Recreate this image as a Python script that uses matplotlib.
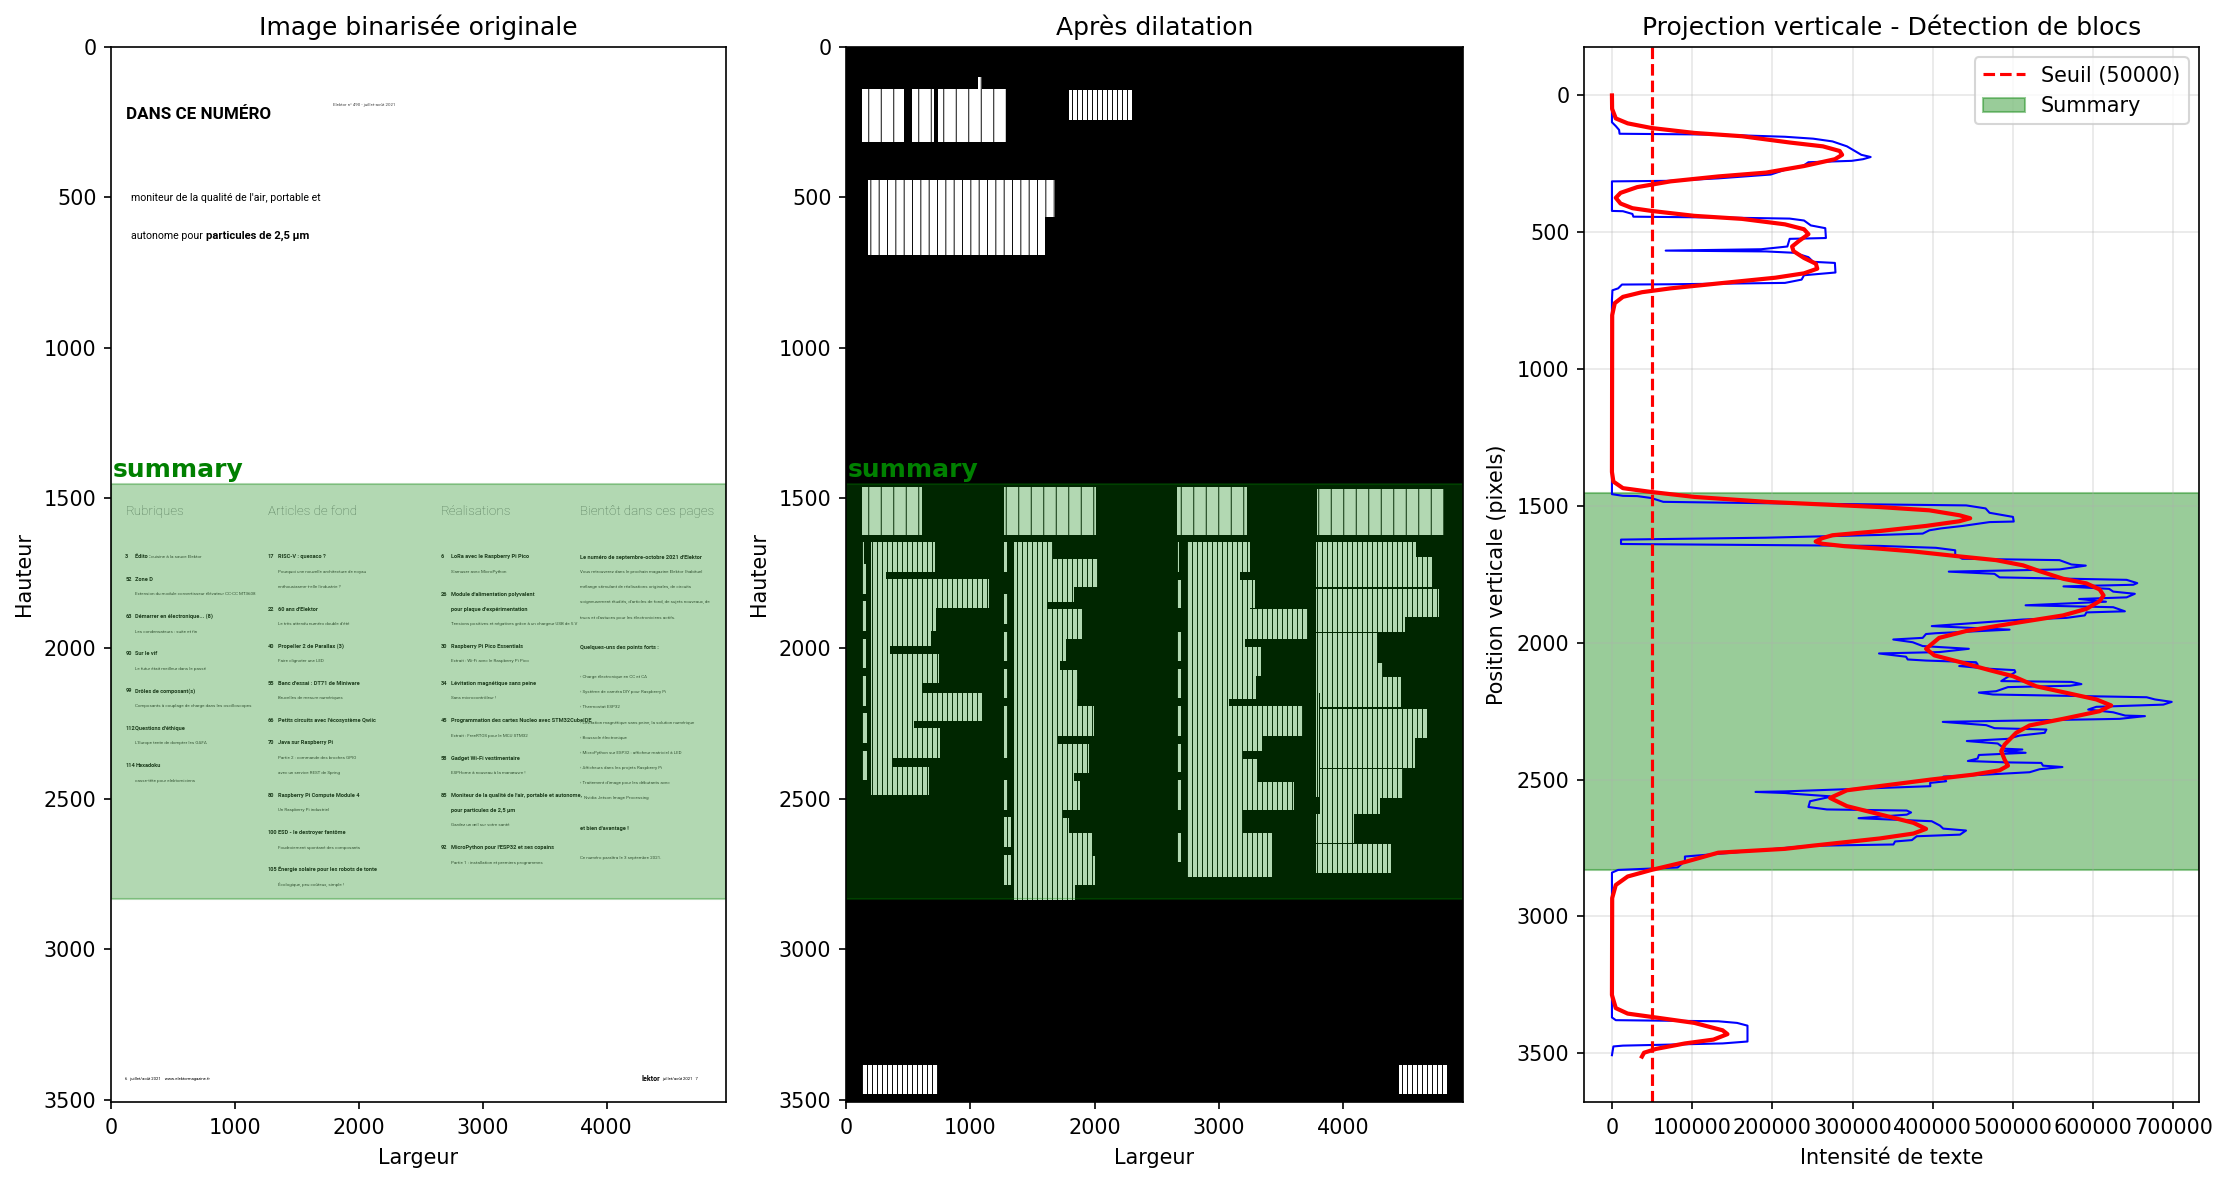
import matplotlib
matplotlib.use("Agg")
import matplotlib.pyplot as plt

plt.rcParams['hatch.linewidth'] = 0.45
plt.rcParams['font.size'] = 9.95
plt.rcParams['xtick.major.pad'] = 4.3
plt.rcParams['axes.labelpad'] = 4.6

NARROW = ['Roboto', 'DejaVu Sans']

# Projection verticale : position (pixels) et intensite
proj_y = [0, 98, 112, 126, 140, 143, 151, 158, 168, 186, 217, 225, 233, 239, 244, 256, 272, 289, 303, 312, 314,
          422, 423, 433, 443, 446, 450, 457, 475, 485, 521, 524, 552, 562, 567, 570, 575, 591, 608, 612, 647,
          657, 673, 685, 690, 691, 705, 712, 747, 1446, 1457, 1463, 1464, 1471, 1485, 1490, 1498, 1509, 1525,
          1540, 1557, 1559, 1573, 1582, 1589, 1601, 1606, 1616, 1623, 1639, 1646, 1653, 1662, 1677, 1693, 1698,
          1714, 1718, 1732, 1740, 1748, 1761, 1770, 1782, 1788, 1794, 1803, 1813, 1821, 1834, 1840, 1850, 1863,
          1870, 1885, 1889, 1900, 1909, 1915, 1939, 1952, 1965, 1968, 1982, 1988, 1998, 2012, 2022, 2034, 2039,
          2051, 2061, 2065, 2071, 2079, 2085, 2095, 2100, 2107, 2140, 2143, 2151, 2157, 2162, 2177, 2182, 2189,
          2199, 2207, 2216, 2226, 2234, 2244, 2254, 2266, 2268, 2278, 2289, 2301, 2312, 2317, 2329, 2339, 2351,
          2359, 2368, 2387, 2390, 2396, 2402, 2410, 2423, 2432, 2437, 2439, 2449, 2454, 2462, 2473, 2483, 2489,
          2506, 2512, 2524, 2543, 2545, 2549, 2552, 2561, 2563, 2579, 2600, 2609, 2613, 2620, 2628, 2641, 2652,
          2668, 2679, 2686, 2701, 2707, 2721, 2726, 2737, 2742, 2767, 2781, 2797, 2821, 2830, 2840, 3369, 3379,
          3383, 3389, 3399, 3457, 3464, 3472, 3475, 3507]
proj_val = [0, 0, 4800, 8900, 9500, 130000, 215700, 251000, 275000, 293000, 311000, 322600, 313000, 299000, 245000,
            239000, 215700, 198000, 132500, 73000, 0,
            0, 13700, 25500, 26700, 132500, 221600, 239500, 248000, 266000, 266800, 221600, 218700, 186000, 67000,
            192000, 227600, 245000, 251000, 278000, 278700,
            239500, 236500, 215700, 73000, 12500, 7700, 600, 0, 0, 0, 13700, 31500, 49000, 64000, 192000, 441700,
            465900, 470800,
            500000, 501000, 470800, 437500, 410400, 395800, 387500, 333000, 192000, 11300, 11300, 333300, 404000,
            428000, 428000, 436700, 558000,
            573000, 590800, 558000, 420000, 477000, 483300, 641700, 655000, 650000, 563000, 620000, 625000, 652000,
            641700, 582500, 616000, 515800,
            625000, 639600, 591700, 589600, 566700, 512500, 398800, 495800, 404000, 391600, 387500, 350800, 375000,
            387500, 445000, 408300, 333000,
            366700, 368800, 391700, 454000, 456000, 433000, 470800, 502000, 503000, 485400, 573000, 585400, 571000,
            493800, 479000, 457500, 475000,
            666700, 677000, 698000, 687500, 604000, 593800, 625000, 640000, 664600, 633000, 412500, 466700, 477000,
            541700, 539600, 508300, 493800,
            442500, 481000, 489600, 511700, 489600, 515800, 457500, 456000, 443800, 491700, 535400, 537500, 561700,
            533300, 520800, 458000, 413300,
            416700, 396700, 397000, 216000, 179000, 216000, 227600, 272000, 272000, 247000, 245000, 268000, 367600,
            373000, 367600, 307500, 398700,
            409000, 413000, 441500, 434000, 380000, 374000, 353000, 351000, 245000, 150000, 91000, 91000, 82000,
            7700, 0, 0, 4800,
            132500, 156000, 169000, 169000, 138000, 13700, 1800, 0]

# Courbe lissee (rouge)
smooth_y = [0, 49, 84, 102, 119, 137, 149, 172, 186, 203, 217, 233, 258, 282, 296, 314, 335, 356, 374, 395, 412,
            422, 440, 451, 471, 489, 507, 531, 552, 569, 594, 615, 633, 650, 666, 687, 705, 719, 736, 759, 803,
            1376, 1411, 1435, 1449, 1467, 1485, 1504, 1516, 1534, 1545, 1556, 1573, 1592, 1607, 1618, 1630, 1638,
            1647, 1656, 1666, 1683, 1698, 1717, 1738, 1766, 1783, 1805, 1827, 1848, 1876, 1900, 1929, 1957, 1982,
            2022, 2046, 2070, 2100, 2122, 2159, 2183, 2207, 2229, 2250, 2278, 2302, 2329, 2372, 2396, 2427, 2449,
            2466, 2482, 2500, 2524, 2539, 2567, 2597, 2624, 2658, 2680, 2697, 2715, 2741, 2753, 2767, 2801, 2830,
            2854, 2885, 2933, 3287, 3335, 3355, 3367, 3389, 3416, 3430, 3450, 3464, 3484, 3498, 3512]
smooth_val = [0, 200, 4800, 19600, 49300, 102800, 162000, 221600, 263000, 284000, 287000, 278000, 239500, 192000,
              132500, 73000, 31500, 10700, 4800, 10700, 25500,
              49300, 102800, 162000, 215700, 239500, 245000, 233500, 224600, 226400, 239500, 254300, 256000, 239500,
              203800, 132500, 73000, 37400, 13700, 3500, 300,
              0, 1800, 13700, 49300, 102800, 192000, 333300, 395800, 433300, 446700, 433000, 391700, 333000, 275000,
              262000, 254000, 262000,
              290000, 333300, 375000, 429000, 479000, 512500, 533000, 562500, 591700, 608000, 613000, 608000, 591700,
              562500, 500000, 441700, 408000,
              391700, 402000, 433300, 470800, 500000, 529000, 566700, 604000, 622500, 608000, 562500, 520800, 504000,
              489600, 485400, 489600, 493800,
              483300, 450000, 397000, 333000, 293000, 272000, 293000, 330000, 376000, 391700, 376000, 334000, 251500,
              215700, 132500, 91000, 49300,
              19600, 4800, 300, 0, 4800, 19600, 49300, 102800, 138000, 144000, 126600, 91000, 55000, 40000, 37400]

seuil = 50000
summary_start = 1452
summary_end = 2832
page_w = 4963
page_h = 3508

# Texte de la page : (x, y, texte)
page_bold = [
    (115, 1695, "3"), (197, 1695, "Édito :"), (115, 1769, "52"), (197, 1769, "Zone D"),
    (115, 1894, "63"), (197, 1894, "Démarrer en électronique... (8)"), (115, 2017, "90"), (197, 2017, "Sur le vif"),
    (115, 2141, "99"), (197, 2141, "Drôles de composant(s)"), (115, 2265, "112"), (197, 2265, "Questions d'éthique"),
    (115, 2389, "114"), (197, 2389, "Hexadoku"),
    (1264, 1695, "17"), (1347, 1695, "RISC-V : quesaco ?"), (1264, 1869, "22"), (1347, 1869, "60 ans d'Elektor"),
    (1264, 1993, "40"), (1347, 1993, "Propeller 2 de Parallax (3)"), (1264, 2116, "55"),
    (1347, 2116, "Banc d'essai : DT71 de Miniware"), (1264, 2241, "66"),
    (1347, 2241, "Petits circuits avec l'écosystème Qwiic"), (1264, 2314, "70"), (1347, 2314, "Java sur Raspberry Pi"),
    (1264, 2488, "80"), (1347, 2488, "Raspberry Pi Compute Module 4"), (1264, 2612, "100"),
    (1347, 2612, "ESD - le destroyer fantôme"), (1264, 2735, "105"), (1347, 2735, "Énergie solaire pour les robots de tonte"),
    (2661, 1695, "6"), (2743, 1695, "LoRa avec le Raspberry Pi Pico"), (2661, 1819, "26"),
    (2743, 1819, "Module d'alimentation polyvalent"), (2743, 1869, "pour plaque d'expérimentation"),
    (2661, 1993, "30"), (2743, 1993, "Raspberry Pi Pico Essentials"), (2661, 2116, "34"),
    (2743, 2116, "Lévitation magnétique sans peine"), (2661, 2241, "45"),
    (2743, 2241, "Programmation des cartes Nucleo avec STM32CubeIDE"), (2661, 2365, "58"),
    (2743, 2365, "Gadget Wi-Fi vestimentaire"), (2661, 2488, "85"),
    (2743, 2488, "Moniteur de la qualité de l'air, portable et autonome,"), (2743, 2538, "pour particules de 2,5 µm"),
    (2661, 2662, "92"), (2743, 2662, "MicroPython pour l'ESP32 et ses copains"),
    (3784, 1697, "Le numéro de septembre-octobre 2021 d'Elektor"), (3784, 1997, "Quelques-uns des points forts :"),
    (3784, 2599, "et bien d'avantage !"),
]
page_light = [
    (323, 1695, "cuisine à la sauce Elektor"), (197, 1819, "Extension du module convertisseur élévateur CC-CC MT3608"),
    (197, 1944, "Les condensateurs : suite et fin"), (197, 2067, "Le futur était meilleur dans le passé"),
    (197, 2191, "Composants à couplage de charge dans les oscilloscopes"),
    (197, 2315, "L'Europe tente de dompter les GAFA"), (197, 2439, "casse-tête pour elektorniciens"),
    (1347, 1745, "Pourquoi une nouvelle architecture de noyau"), (1347, 1795, "enthousiasme-t-elle l'industrie ?"),
    (1347, 1919, "Le très attendu numéro double d'été"), (1347, 2043, "Faire clignoter une LED"),
    (1347, 2166, "Brucelles de mesure numériques"), (1347, 2365, "Partie 2 : commande des broches GPIO"),
    (1347, 2415, "avec un service REST de Spring"), (1347, 2538, "Un Raspberry Pi industriel"),
    (1347, 2662, "Foudroiement spontané des composants"), (1347, 2785, "Écologique, peu coûteux, simple !"),
    (2743, 1745, "S'amuser avec MicroPython"),
    (2743, 1919, "Tensions positives et négatives grâce à un chargeur USB de 5 V"),
    (2743, 2043, "Extrait : Wi-Fi avec le Raspberry Pi Pico"), (2743, 2166, "Sans microcontrôleur !"),
    (2743, 2290, "Extrait : FreeRTOS pour le MCU STM32"), (2743, 2415, "ESPHome à nouveau à la manœuvre !"),
    (2743, 2588, "Gardez un œil sur votre santé"), (2743, 2712, "Partie 1 : installation et premiers programmes"),
    (3784, 1747, "Vous retrouverez dans le prochain magazine Elektor l'habituel"),
    (3784, 1797, "mélange stimulant de réalisations originales, de circuits"),
    (3784, 1847, "soigneusement étudiés, d'articles de fond, de sujets nouveaux, de"),
    (3784, 1897, "trucs et d'astuces pour les électroniciens actifs."),
    (3784, 2096, "› Charge électronique en CC et CA"), (3784, 2146, "› Système de caméra DIY pour Raspberry Pi"),
    (3784, 2196, "› Thermostat ESP32"), (3784, 2247, "› Lévitation magnétique sans peine, la solution numérique"),
    (3784, 2297, "› Boussole électronique"), (3784, 2347, "› MicroPython sur ESP32 : afficheur matriciel à LED"),
    (3784, 2397, "› Afficheurs dans les projets Raspberry Pi"), (3784, 2447, "› Traitement d'image pour les débutants avec"),
    (3820, 2498, "Nvidia Jetson Image Processing"), (3784, 2698, "Ce numéro paraîtra le 3 septembre 2021."),
]
page_headings = [(115, 1546, "Rubriques"), (1264, 1546, "Articles de fond"), (2661, 1546, "Réalisations"),
                 (3784, 1546, "Bientôt dans ces pages")]

# Blocs apres dilatation : (x0, x1, y0, y1)
blocs_titres = [(131, 470, 138, 315), (529, 706, 138, 315), (742, 1284, 138, 315), (1061, 1094, 101, 138),
                (131, 611, 1462, 1623), (1268, 2007, 1462, 1623), (2664, 3229, 1462, 1623), (3788, 4813, 1471, 1623)]
blocs_intro = [(174, 1685, 443, 565), (174, 1597, 565, 692)]
blocs_texte = [(1790, 2300, 143, 243), (126, 743, 3385, 3480), (4448, 4837, 3385, 3480),
               (125, 148, 1645, 1745), (125, 164, 1720, 1819), (125, 164, 1843, 1942), (125, 164, 1967, 2064),
               (125, 164, 2092, 2190), (125, 171, 2216, 2314), (125, 171, 2340, 2438),
               (204, 713, 1645, 1745), (204, 322, 1720, 1819), (204, 1150, 1769, 1867), (204, 723, 1843, 1942),
               (204, 680, 1895, 1992), (204, 351, 1967, 2067), (204, 746, 2017, 2116), (204, 608, 2094, 2188),
               (204, 1091, 2147, 2241), (204, 545, 2216, 2316), (204, 759, 2266, 2364), (204, 371, 2340, 2438),
               (204, 664, 2394, 2487),
               (1268, 1298, 1645, 1745), (1268, 1307, 1819, 1919), (1268, 1307, 1944, 2042), (1268, 1307, 2068, 2166),
               (1268, 1307, 2192, 2290), (1268, 1307, 2266, 2363), (1268, 1307, 2438, 2538), (1268, 1324, 2562, 2660),
               (1268, 1324, 2687, 2785),
               (1350, 1662, 1645, 1745), (1350, 2030, 1701, 1795), (1350, 1833, 1751, 1844), (1350, 1620, 1819, 1919),
               (1350, 1902, 1870, 1968), (1350, 1771, 1944, 2043), (1350, 1718, 1995, 2092), (1350, 1866, 2070, 2167),
               (1350, 1856, 2116, 2192), (1350, 1994, 2192, 2290), (1350, 1702, 2266, 2363), (1350, 1955, 2316, 2414),
               (1350, 1833, 2366, 2463), (1350, 1882, 2440, 2538), (1350, 1744, 2489, 2586), (1350, 1797, 2564, 2660),
               (1350, 1981, 2615, 2711), (1350, 2001, 2691, 2785), (1350, 1843, 2737, 2837),
               (2664, 2681, 1645, 1745), (2664, 2697, 1771, 1867), (2664, 2697, 1944, 2042), (2664, 2697, 2068, 2166),
               (2664, 2697, 2192, 2290), (2664, 2697, 2316, 2412), (2664, 2697, 2438, 2538), (2664, 2697, 2612, 2709),
               (2746, 3252, 1645, 1745), (2746, 3170, 1695, 1793), (2746, 3288, 1773, 1867), (2746, 3252, 1823, 1919),
               (2746, 3715, 1870, 1968), (2746, 3213, 1944, 2043), (2746, 3341, 1995, 2092), (2746, 3301, 2068, 2167),
               (2746, 3081, 2116, 2192), (2746, 3673, 2192, 2290), (2746, 3347, 2241, 2340), (2746, 3196, 2316, 2414),
               (2746, 3308, 2369, 2463), (2746, 3600, 2445, 2538), (2746, 3196, 2493, 2613), (2746, 3426, 2615, 2759),
               (3781, 4583, 1645, 1745), (3781, 4714, 1697, 1797), (3781, 4773, 1801, 1895), (3781, 4494, 1845, 1945),
               (3781, 4274, 1950, 2047), (3781, 4323, 2048, 2148), (3781, 3801, 2048, 2493), (3814, 4461, 2096, 2196),
               (3814, 4675, 2201, 2296), (3814, 4576, 2299, 2396), (3814, 4484, 2401, 2496), (3814, 4297, 2449, 2549),
               (3781, 4090, 2552, 2646), (3781, 4385, 2649, 2746)]

fig = plt.figure(figsize=(2227 / 150, 1184 / 150), dpi=150)
W, H = 2227, 1184
ax1 = fig.add_axes([111 / W, 1 - 1102 / H, 615 / W, 1055 / H])
ax2 = fig.add_axes([846 / W, 1 - 1102 / H, 617 / W, 1055 / H])
ax3 = fig.add_axes([1584 / W, 1 - 1102 / H, 615 / W, 1055 / H])

# Image binarisee
ax1.text(125, 226, "DANS CE NUMÉRO", family=NARROW, fontweight='bold', fontsize=8.2, va='center')
ax1.text(1788, 194, "Elektor n° 490 - juillet-août 2021", family=NARROW, fontsize=2.1, va='center', color='#444444')
ax1.text(165, 503, "moniteur de la qualité de l'air, portable et", family=NARROW, fontsize=5.05, va='center')
ax1.text(165, 629, "autonome pour", family=NARROW, fontsize=5.05, va='center')
ax1.text(767, 629, "particules de 2,5 µm", family=NARROW, fontsize=5.4, fontweight='bold', va='center')
ax1.text(115, 3432, "6   juillet/août 2021    www.elektormagazine.fr", family=NARROW, fontsize=2.0, va='center')
ax1.text(4435, 3432, "lektor", family=NARROW, fontsize=3.4, fontweight='bold', va='center', ha='right')
ax1.text(4450, 3432, "juillet/août 2021   7", family=NARROW, fontsize=2.0, va='center')
for x, y, s in page_bold:
    ax1.text(x, y, s, family=NARROW, fontsize=2.7, fontweight='bold', va='center', color='#1f3f1f')
for x, y, s in page_light:
    ax1.text(x, y, s, family=NARROW, fontsize=2.15, va='center', color='#385838')
for x, y, s in page_headings:
    ax1.text(x, y, s, family=NARROW, fontsize=6.4, fontweight='light', va='center', color='#55795a')
ax1.set_xlim(0, page_w)
ax1.set_ylim(page_h, 0)
ax1.axhspan(summary_start, summary_end, color='green', alpha=0.3)
ax1.text(12, 1431, "summary", color='green', fontsize=12, fontweight='bold')
ax1.set_title("Image binarisée originale", fontsize=12)
ax1.set_xlabel("Largeur")
ax1.set_ylabel("Hauteur")

# Apres dilatation
ax2.set_facecolor('black')
for x0, x1, y0, y1 in blocs_titres:
    ax2.bar(x0, y1 - y0, x1 - x0, bottom=y0, align='edge', color='white', edgecolor='black', linewidth=0, hatch='||')
for x0, x1, y0, y1 in blocs_intro:
    ax2.bar(x0, y1 - y0, x1 - x0, bottom=y0, align='edge', color='white', edgecolor='black', linewidth=0, hatch='|||')
for x0, x1, y0, y1 in blocs_texte:
    ax2.bar(x0, y1 - y0, x1 - x0, bottom=y0, align='edge', color='white', edgecolor='black', linewidth=0, hatch='|||||')
ax2.set_xlim(0, page_w)
ax2.set_ylim(page_h, 0)
ax2.axhspan(summary_start, summary_end, color='green', alpha=0.3)
ax2.text(12, 1431, "summary", color='green', fontsize=12, fontweight='bold')
ax2.set_title("Après dilatation", fontsize=12)
ax2.set_xlabel("Largeur")
ax2.set_ylabel("Hauteur")

# Projection verticale
ax3.plot(proj_val, proj_y, color='blue', linewidth=1)
ax3.plot(smooth_val, smooth_y, color='red', linewidth=2)
ax3.axvline(seuil, color='red', linestyle='--', linewidth=1.5, label="Seuil (50000)")
ax3.axhspan(summary_start, summary_end, color='green', alpha=0.4, label="Summary")
ax3.set_xlim(-34850, 732000)
ax3.set_ylim(3678, -177)
ax3.set_title("Projection verticale - Détection de blocs", fontsize=12)
ax3.set_xlabel("Intensité de texte")
ax3.set_ylabel("Position verticale (pixels)")
ax3.grid(True, alpha=0.3)
ax3.legend(loc='upper right')

plt.savefig("out.png", dpi=150)
